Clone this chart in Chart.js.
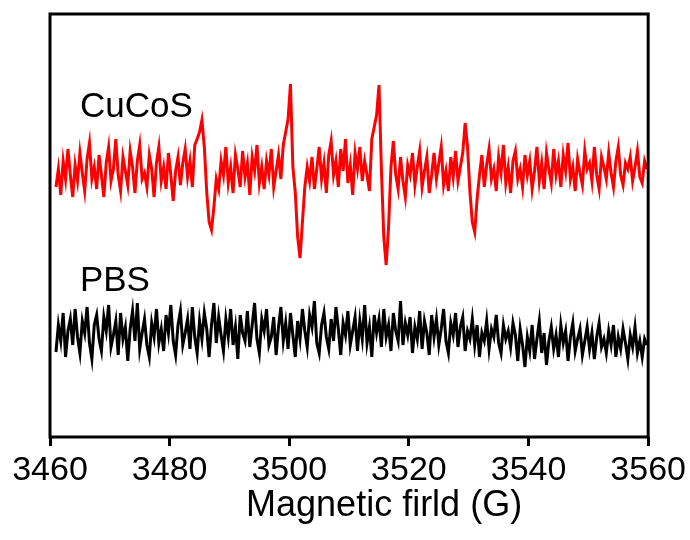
<!DOCTYPE html>
<html>
<head>
<meta charset="utf-8">
<title>EPR spectra</title>
<script src="https://cdn.jsdelivr.net/npm/chart.js@4.4.1/dist/chart.umd.min.js"></script>
<style>
    html, body { margin: 0; padding: 0; background: #fff; }
    #chart { display: block; }
</style>
</head>
<body>
<canvas id="chart" width="690" height="540"></canvas>
<script>
// Campo magnetico (G): scansione da 3461 G, passo 0.4 G
const fieldStart = 3461;
const fieldStep = 0.4;

const xTicks = [3460, 3480, 3500, 3520, 3540, 3560];

// Segnale CuCoS (unita arbitrarie)
const cucos = [
    250, 268, 242, 276, 258, 288, 262, 240, 272, 256,
    284, 264, 246, 278, 294, 258, 270, 248, 282, 262,
    240, 274, 290, 256, 268, 298, 262, 246, 280, 266,
    252, 286, 270, 244, 276, 292, 258, 264, 250, 282,
    268, 240, 274, 290, 256, 270, 248, 284, 262, 236,
    266, 280, 252, 274, 288, 260, 276, 250, 292, 298,
    305, 317, 290, 245, 215, 207, 230, 258, 248, 276,
    262, 290, 254, 270, 244, 282, 268, 250, 286, 260,
    274, 242, 280, 266, 292, 254, 270, 248, 276, 262,
    288, 250, 266, 282, 258, 292, 305, 318, 353, 270,
    245, 200, 179, 215, 250, 270, 256, 280, 248, 268,
    290, 258, 274, 244, 282, 296, 262, 276, 250, 288,
    266, 298, 254, 272, 242, 284, 268, 290, 256, 276,
    262, 246, 298, 310, 322, 352, 268, 200, 172, 210,
    270, 296, 262, 248, 280, 256, 240, 272, 262, 284,
    252, 270, 286, 250, 266, 280, 244, 262, 284, 258,
    274, 290, 252, 266, 246, 280, 260, 286, 256, 270,
    284, 314, 290, 245, 215, 205, 238, 262, 282, 250,
    272, 288, 258, 268, 246, 280, 264, 292, 254, 270,
    244, 276, 286, 258, 268, 250, 282, 262, 276, 248,
    266, 290, 256, 274, 248, 284, 268, 254, 288, 262,
    276, 250, 282, 266, 294, 258, 270, 246, 278, 264,
    252, 286, 268, 274, 256, 290, 262, 248, 280, 270,
    258, 284, 264, 250, 276, 290, 262, 252, 274, 268,
    280, 256, 270, 286, 260, 254, 276, 268
];

// Segnale PBS (unita arbitrarie)
const pbs = [
    85, 112, 96, 124, 80, 106, 118, 92, 128, 100,
    84, 116, 104, 130, 94, 78, 112, 122, 98, 86,
    120, 106, 132, 90, 102, 116, 82, 124, 98, 110,
    76, 108, 126, 96, 134, 88, 104, 118, 92, 80,
    114, 100, 128, 94, 108, 86, 122, 104, 132, 96,
    82, 112, 126, 92, 104, 118, 88, 130, 100, 84,
    116, 98, 124, 108, 80, 112, 134, 94, 120, 102,
    86, 118, 100, 128, 92, 110, 78, 122, 104, 96,
    126, 90, 112, 134, 98, 84, 118, 106, 128, 92,
    100, 120, 82, 110, 130, 96, 114, 88, 124, 102,
    80, 116, 98, 128, 106, 90, 122, 110, 136, 94,
    84, 112, 124, 100, 88, 118, 96, 130, 108, 82,
    114, 102, 126, 92, 106, 120, 86, 116, 98, 132,
    94, 110, 80, 122, 104, 118, 90, 128, 100, 112,
    86, 124, 106, 96, 136, 92, 114, 102, 120, 84,
    110, 98, 126, 88, 116, 104, 82, 122, 100, 118,
    92, 108, 128, 96, 84, 114, 102, 124, 90, 110,
    120, 86, 106, 98, 118, 92, 112, 80, 104, 96,
    116, 88, 108, 100, 122, 94, 84, 112, 98, 106,
    90, 114, 102, 76, 108, 92, 70, 100, 86, 112,
    78, 98, 116, 84, 104, 72, 96, 110, 88, 102,
    80, 112, 94, 106, 76, 100, 114, 86, 98, 108,
    82, 96, 110, 88, 104, 78, 100, 114, 90, 98,
    84, 106, 92, 112, 80, 100, 88, 108, 94, 78,
    102, 90, 110, 84, 96, 80, 98, 92
];

// Etichette delle tracce: [testo, campo, intensita]
const traceLabels = [
    ['CuCoS', 3465, 320],
    ['PBS', 3465, 146]
];

const axisTitle = 'Magnetic firld (G)';
const fontFamily = 'Arial, "Liberation Sans", sans-serif';

const toPoints = (values) => values.map((v, i) => ({ x: fieldStart + i * fieldStep, y: v }));

// Cornice, etichette e titolo asse
const framePlugin = {
    id: 'frame',
    afterDraw(chart) {
        const { ctx, chartArea: a, scales } = chart;
        ctx.save();
        ctx.strokeStyle = '#000';
        ctx.lineWidth = 3;
        ctx.strokeRect(a.left, a.top, a.right - a.left, a.bottom - a.top);

        ctx.fillStyle = '#000';
        ctx.font = '35px ' + fontFamily;
        ctx.textAlign = 'left';
        ctx.textBaseline = 'alphabetic';
        traceLabels.forEach(([text, x, y]) => {
            ctx.fillText(text, scales.x.getPixelForValue(x), scales.y.getPixelForValue(y));
        });

        ctx.font = '36px ' + fontFamily;
        ctx.textAlign = 'center';
        ctx.fillText(axisTitle, (a.left + a.right) / 2 + 35, a.bottom + 79);
        ctx.restore();
    }
};

new Chart(document.getElementById('chart'), {
    type: 'line',
    data: {
        datasets: [
            {
                label: 'CuCoS',
                data: toPoints(cucos),
                borderColor: '#ff0000',
                borderWidth: 3,
                pointRadius: 0,
                tension: 0
            },
            {
                label: 'PBS',
                data: toPoints(pbs),
                borderColor: '#000000',
                borderWidth: 3,
                pointRadius: 0,
                tension: 0
            }
        ]
    },
    options: {
        responsive: false,
        animation: false,
        layout: { padding: { left: 50, right: 41, top: 14, bottom: 0 } },
        plugins: {
            legend: { display: false },
            tooltip: { enabled: false }
        },
        scales: {
            x: {
                type: 'linear',
                min: 3460,
                max: 3560,
                afterBuildTicks: (scale) => {
                    scale.ticks = xTicks.map(v => ({ value: v }));
                },
                afterFit: (scale) => { scale.height = 103; },
                border: { display: false },
                grid: {
                    display: true,
                    drawOnChartArea: false,
                    drawTicks: true,
                    tickLength: 9,
                    lineWidth: 3,
                    color: '#000'
                },
                ticks: {
                    color: '#000',
                    padding: 4,
                    maxRotation: 0,
                    callback: (value) => String(value),
                    font: { family: fontFamily, size: 34 }
                }
            },
            y: {
                display: false,
                min: 0,
                max: 423
            }
        }
    },
    plugins: [framePlugin]
});
</script>
</body>
</html>
